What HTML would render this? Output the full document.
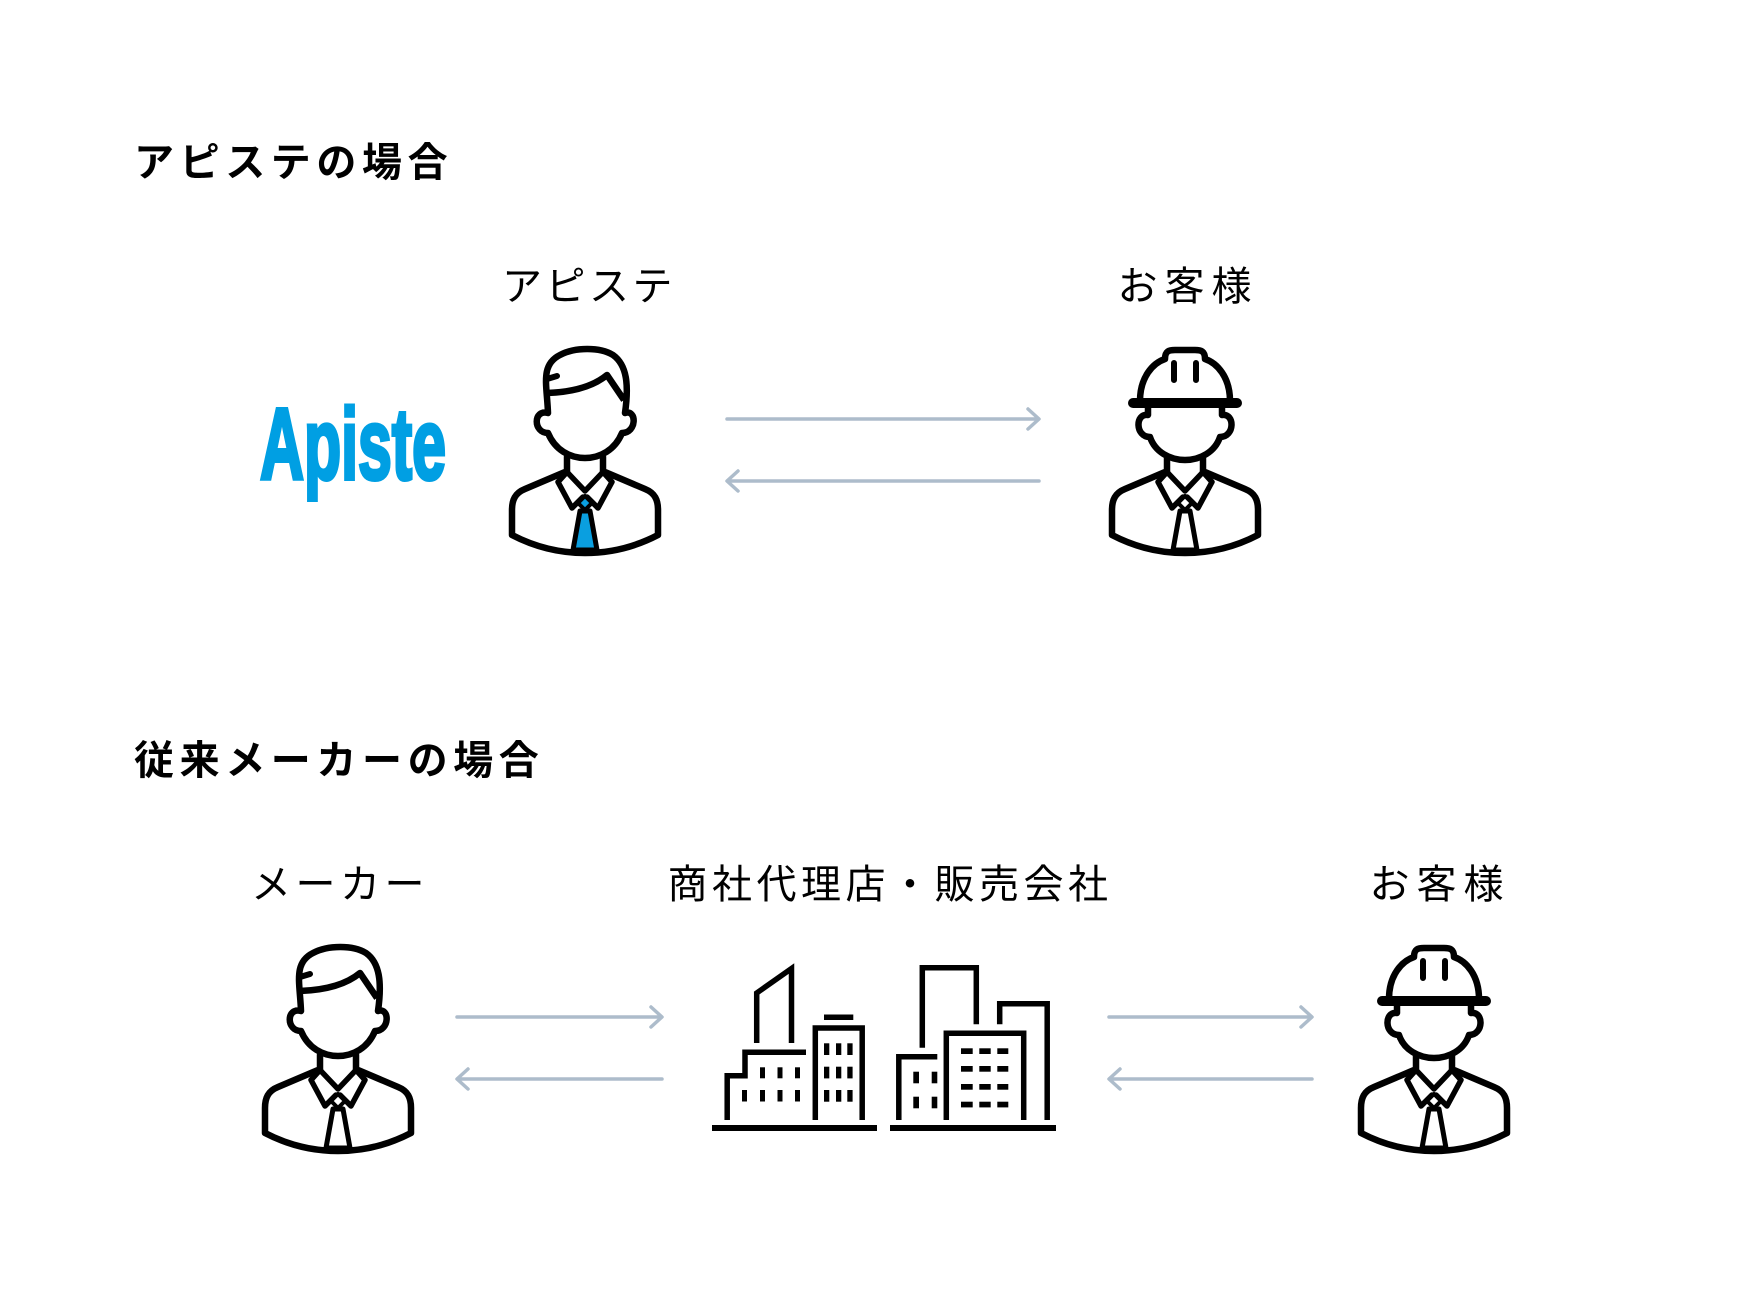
<!DOCTYPE html>
<html><head><meta charset="utf-8">
<style>
html,body{margin:0;padding:0;background:#fff;}
svg{display:block;}
.t{font-family:"Liberation Sans","Noto Sans CJK JP",sans-serif;font-size:40px;fill:#000;}
.b{font-weight:700;letter-spacing:5.6px;}
.l{font-weight:400;letter-spacing:4.5px;}
.c{letter-spacing:7px;}
.a{letter-spacing:3.5px;}
</style></head>
<body>
<svg width="1760" height="1290" viewBox="0 0 1760 1290" xmlns="http://www.w3.org/2000/svg">
<defs>
  <g id="bodyBase">
    <path d="M-18,112 V128 M18,112 V128" fill="none" stroke="#000" stroke-width="6.5" stroke-linecap="round"/>
    <path d="M-20,127 L-60,144 C-70,148 -73,155 -73,165 L-73,190 C-50,202 -25,208 0,208 C25,208 50,202 73,190 L73,165 C73,155 70,148 60,144 L20,127" fill="#fff" stroke="#000" stroke-width="6.5" stroke-linejoin="round"/>
    <path d="M-18,127 L0,146 L18,127 M-18,127 L-27,137 L-13,163 L-2,152 M18,127 L27,137 L13,163 L2,152" fill="none" stroke="#000" stroke-width="5.5" stroke-linejoin="round" stroke-linecap="round"/>
  </g>
  <g id="biz">
    <path d="M-37,68 C-38,40 -45,20 -25,10 C-10,2 15,2 28,10 C42,20 44,40 40,68 C52,64 52,88 37,88 C30,105 15,113 0,113 C-15,113 -30,105 -37,88 C-52,88 -52,64 -37,68 Z" fill="#fff" stroke="#000" stroke-width="6.5" stroke-linejoin="round"/>
    <path d="M-38,48 C-10,47 10,40 22,30 L39,55" fill="none" stroke="#000" stroke-width="6.5" stroke-linejoin="round"/>
    <path d="M-38,34 L-28,31" fill="none" stroke="#000" stroke-width="6" stroke-linecap="round"/>
    <use href="#bodyBase"/>
  </g>
  <g id="hat">
    <path d="M-37,62 L-37,70 C-50,68 -50,92 -35,92 C-30,107 -15,115 0,115 C15,115 30,107 35,92 C50,92 50,68 37,70 L37,62" fill="#fff" stroke="#000" stroke-width="6.5" stroke-linejoin="round"/>
    <path d="M-45,56 C-45,32 -32,18 -20,14 C-20,6 -16,5 -10,5 L10,5 C16,5 20,6 20,14 C32,18 45,32 45,56" fill="#fff" stroke="#000" stroke-width="6.5" stroke-linejoin="round"/>
    <path d="M-11,18 V35 M11,18 V35" stroke="#000" stroke-width="6" stroke-linecap="round"/>
    <rect x="-57" y="53" width="114" height="10" rx="5" fill="#000"/>
    <use href="#bodyBase"/>
  </g>
</defs>

<!-- Titles -->
<text class="t b" x="134" y="176">アピステの場合</text>
<text class="t b" x="134" y="774">従来メーカーの場合</text>

<!-- Top labels -->
<text class="t l a" x="589" y="300" text-anchor="middle">アピステ</text>
<text class="t l c" x="1188" y="300" text-anchor="middle">お客様</text>

<!-- Bottom labels -->
<text class="t l" x="340" y="898" text-anchor="middle">メーカー</text>
<text class="t l" x="890" y="898" text-anchor="middle">商社代理店・販売会社</text>
<text class="t l c" x="1440" y="898" text-anchor="middle">お客様</text>

<!-- Logo -->
<text x="260" y="479" font-family="Liberation Sans, sans-serif" font-weight="700" font-size="101" textLength="186" lengthAdjust="spacingAndGlyphs" fill="#009fe3" stroke="#009fe3" stroke-width="4" stroke-linejoin="miter">Apiste</text>

<!-- Top row icons -->
<g transform="translate(585,345)">
  <use href="#biz"/>
  <path d="M0,151 L7,158 L0,165 L-7,158 Z" fill="#0a9fe0" stroke="#000" stroke-width="4" stroke-linejoin="round"/>
  <path d="M-5,166 L-12,205 L12,205 L5,166 Z" fill="#0a9fe0" stroke="#000" stroke-width="5" stroke-linejoin="round"/>
</g>
<g transform="translate(1185,345)">
  <use href="#hat"/>
  <path d="M0,151 L7,158 L0,165 L-7,158 Z" fill="#fff" stroke="#000" stroke-width="4" stroke-linejoin="round"/>
  <path d="M-5,166 L-12,205 L12,205 L5,166 Z" fill="#fff" stroke="#000" stroke-width="5" stroke-linejoin="round"/>
</g>

<!-- Bottom row icons -->
<g transform="translate(338,943)">
  <use href="#biz"/>
  <path d="M0,151 L7,158 L0,165 L-7,158 Z" fill="#fff" stroke="#000" stroke-width="4" stroke-linejoin="round"/>
  <path d="M-5,166 L-12,205 L12,205 L5,166 Z" fill="#fff" stroke="#000" stroke-width="5" stroke-linejoin="round"/>
</g>
<g transform="translate(1434,943)">
  <use href="#hat"/>
  <path d="M0,151 L7,158 L0,165 L-7,158 Z" fill="#fff" stroke="#000" stroke-width="4" stroke-linejoin="round"/>
  <path d="M-5,166 L-12,205 L12,205 L5,166 Z" fill="#fff" stroke="#000" stroke-width="5" stroke-linejoin="round"/>
</g>

<!-- Arrows -->
<g fill="none" stroke="#adbccb" stroke-width="3.5" stroke-linejoin="round" stroke-linecap="round">
  <path d="M727,419 H1038 M1028,409 L1039,419 L1028,429"/>
  <path d="M728,481 H1039 M738,471 L727,481 L738,491"/>
  <path d="M457,1017 H661 M651,1007 L662,1017 L651,1027"/>
  <path d="M458,1079 H662 M468,1069 L457,1079 L468,1089"/>
  <path d="M1109,1017 H1311 M1301,1007 L1312,1017 L1301,1027"/>
  <path d="M1110,1079 H1312 M1120,1069 L1109,1079 L1120,1089"/>
</g>

<!-- Buildings -->
<g fill="none" stroke="#000" stroke-width="5.5" stroke-linejoin="miter">
  <path d="M756.7,1043 V993 L791.5,968.5 V1043"/>
  <path d="M727.2,1120 V1075.7 H745 V1052.3 H806"/>
  <path d="M815.3,1120 V1028 H862.2 V1120"/>
  <path d="M922.3,1047.7 V967.8 H976.3 V1024.3"/>
  <path d="M999.7,1024.3 V1003.8 H1047.2 V1120"/>
  <path d="M898.8,1120 V1056.8 H937.3"/>
  <path d="M946.3,1120 V1033.2 H1023.7 V1120"/>
</g>
<g fill="#000">
  <rect x="712" y="1125" width="165" height="6"/>
  <rect x="890" y="1125" width="166" height="6"/>
  <rect x="824" y="1014.5" width="29.3" height="5.5"/>
  <rect x="760" y="1067.3" width="5" height="11"/>
  <rect x="777.5" y="1067.3" width="5" height="11"/>
  <rect x="795" y="1067.3" width="5" height="11"/>
  <rect x="742" y="1090" width="5" height="11.5"/>
  <rect x="760" y="1090" width="5" height="11.5"/>
  <rect x="777.5" y="1090" width="5" height="11.5"/>
  <rect x="795" y="1090" width="5" height="11.5"/>
  <rect x="824" y="1043.3" width="5.3" height="11.7"/>
  <rect x="836" y="1043.3" width="5.3" height="11.7"/>
  <rect x="847.3" y="1043.3" width="5.3" height="11.7"/>
  <rect x="824" y="1066.7" width="5.3" height="11.7"/>
  <rect x="836" y="1066.7" width="5.3" height="11.7"/>
  <rect x="847.3" y="1066.7" width="5.3" height="11.7"/>
  <rect x="824" y="1090" width="5.3" height="11.7"/>
  <rect x="836" y="1090" width="5.3" height="11.7"/>
  <rect x="847.3" y="1090" width="5.3" height="11.7"/>
  <rect x="913.3" y="1071.7" width="5.7" height="11.6"/>
  <rect x="931.7" y="1071.7" width="5.6" height="11.6"/>
  <rect x="913.3" y="1096.7" width="5.7" height="11.6"/>
  <rect x="931.7" y="1096.7" width="5.6" height="11.6"/>
  <rect x="961" y="1048.3" width="11.7" height="5.7"/>
  <rect x="979.3" y="1048.3" width="11.4" height="5.7"/>
  <rect x="997.3" y="1048.3" width="11" height="5.7"/>
  <rect x="961" y="1066" width="11.7" height="5.7"/>
  <rect x="979.3" y="1066" width="11.4" height="5.7"/>
  <rect x="997.3" y="1066" width="11" height="5.7"/>
  <rect x="961" y="1084" width="11.7" height="5.7"/>
  <rect x="979.3" y="1084" width="11.4" height="5.7"/>
  <rect x="997.3" y="1084" width="11" height="5.7"/>
  <rect x="961" y="1101.7" width="11.7" height="5.7"/>
  <rect x="979.3" y="1101.7" width="11.4" height="5.7"/>
  <rect x="997.3" y="1101.7" width="11" height="5.7"/>
</g>
</svg>
</body></html>
